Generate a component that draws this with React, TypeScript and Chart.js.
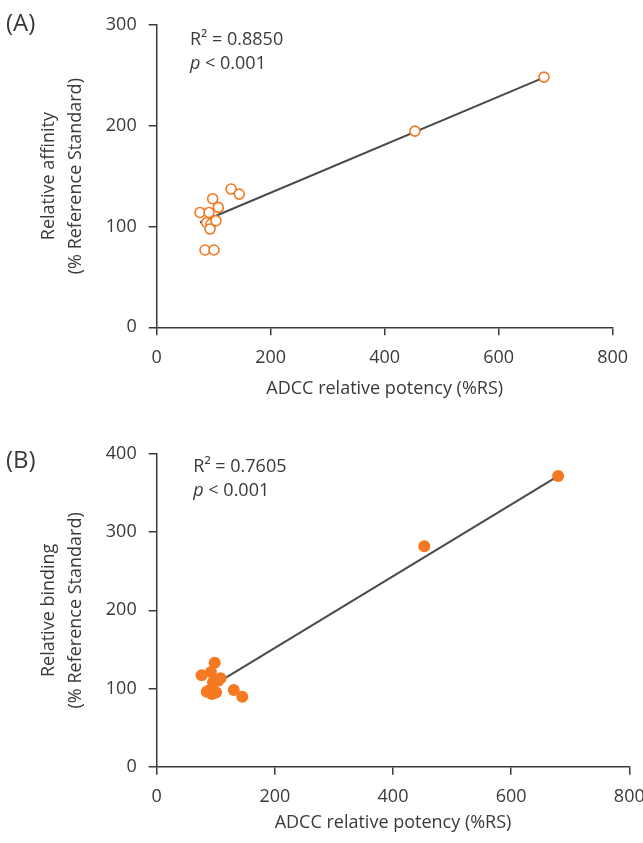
import React, { useEffect, useRef } from "react";
import { Chart, registerables } from "chart.js";

Chart.register(...registerables);

// ---- Data ----
const adccPotency = [76, 91.8, 98.2, 108.1, 87.7, 95.3, 93.5, 104, 84.7, 100.5, 130.4, 144.9, 453, 679.5];
const relativeAffinity = [114, 114, 127.6, 119, 103.8, 102.5, 97.5, 105.8, 76.7, 76.7, 137.2, 132.2, 194.7, 248.3];
const relativeBinding = [117, 121, 133, 113, 97, 108, 93, 110, 96, 95, 98, 89.5, 282, 372];
const fitAffinityX = [76, 680];
const fitAffinityY = [104, 248];
const fitBindingX = [76, 680];
const fitBindingY = [95, 372];
const xTicks = [0, 200, 400, 600, 800];
const yTicksA = [0, 100, 200, 300];
const yTicksB = [0, 100, 200, 300, 400];

const ORANGE = "#F47920";
const TEXT = "#3a3a3a";
const AXIS = "#3a3a3a";
const FONT = "'Open Sans', sans-serif";

type PanelCfg = {
  label: string;
  r2: string;
  yTitle: string[];
  yMax: number;
  yTicks: number[];
  ys: number[];
  fitX: number[];
  fitY: number[];
  filled: boolean;
  height: number;
  padding: { top: number; right: number; bottom: number; left: number };
  xAxisHeight: number;
  xTickPad: number;
  labelY: number;
  annX: number;
  annY: number;
};

function makeAnnotationPlugin(cfg: PanelCfg) {
  return {
    id: "annotations" + cfg.label,
    afterDraw(chart: any) {
      const ctx = chart.ctx;
      const area = chart.chartArea;
      ctx.save();
      ctx.fillStyle = TEXT;
      ctx.textBaseline = "middle";
      ctx.textAlign = "left";
      ctx.font = `24px ${FONT}`;
      ctx.fillText(cfg.label, 6, cfg.labelY);
      const ax = area.left + cfg.annX;
      const ay = area.top + cfg.annY;
      ctx.font = `18px ${FONT}`;
      ctx.fillText(cfg.r2, ax, ay);
      ctx.font = `italic 18px ${FONT}`;
      ctx.fillText("p", ax, ay + 24);
      const pw = ctx.measureText("p").width;
      ctx.font = `18px ${FONT}`;
      ctx.fillText(" < 0.001", ax + pw, ay + 24);
      ctx.restore();
    },
  };
}

function Panel({ cfg, top }: { cfg: PanelCfg; top: number }) {
  const ref = useRef<HTMLCanvasElement>(null);
  useEffect(() => {
    if (!ref.current) return;
    const points = adccPotency.map((x, i) => ({ x, y: cfg.ys[i] }));
    const fit = cfg.fitX.map((x, i) => ({ x, y: cfg.fitY[i] }));
    const chart = new Chart(ref.current, {
      type: "scatter",
      data: {
        datasets: [
          {
            type: "line",
            data: fit,
            borderColor: "#4a4a4a",
            borderWidth: 2,
            pointRadius: 0,
            fill: false,
            order: 1,
          } as any,
          {
            data: points,
            backgroundColor: cfg.filled ? ORANGE : "#ffffff",
            borderColor: ORANGE,
            borderWidth: cfg.filled ? 0 : 1.6,
            pointRadius: cfg.filled ? 6 : 5,
            order: 0,
          },
        ],
      },
      options: {
        animation: false,
        responsive: false,
        maintainAspectRatio: false,
        layout: { padding: cfg.padding },
        plugins: { legend: { display: false }, tooltip: { enabled: false } },
        scales: {
          x: {
            type: "linear",
            min: 0,
            max: 800,
            afterBuildTicks: (s: any) => {
              s.ticks = xTicks.map((v) => ({ value: v }));
            },
            afterFit: (s: any) => {
              s.height = cfg.xAxisHeight;
              s.paddingLeft = 0;
              s.paddingRight = 0;
            },
            ticks: { color: TEXT, font: { size: 18, family: FONT }, padding: cfg.xTickPad, maxRotation: 0 },
            grid: { drawOnChartArea: false, drawTicks: true, tickLength: 8, color: AXIS, lineWidth: 1.5 },
            border: { display: true, color: AXIS, width: 1.5 },
            title: {
              display: true,
              text: "ADCC relative potency (%RS)",
              color: TEXT,
              font: { size: 18, family: FONT, lineHeight: 1.2 },
              padding: { top: 0, bottom: 0 },
            },
          },
          y: {
            type: "linear",
            min: 0,
            max: cfg.yMax,
            afterBuildTicks: (s: any) => {
              s.ticks = cfg.yTicks.map((v) => ({ value: v }));
            },
            afterFit: (s: any) => {
              s.width = 156.7;
              s.paddingTop = 0;
              s.paddingBottom = 0;
            },
            ticks: { color: TEXT, font: { size: 18, family: FONT }, padding: 12 },
            grid: { drawOnChartArea: false, drawTicks: true, tickLength: 8, color: AXIS, lineWidth: 1.5 },
            border: { display: true, color: AXIS, width: 1.5 },
            title: {
              display: true,
              text: cfg.yTitle,
              color: TEXT,
              font: { size: 18, family: FONT, lineHeight: 1.5 },
              padding: { top: 35, bottom: 0 },
            },
          },
        },
      },
      plugins: [makeAnnotationPlugin(cfg)],
    } as any);
    return () => chart.destroy();
  }, [cfg]);
  return (
    <div style={{ position: "absolute", left: 0, top, width: 643, height: cfg.height }}>
      <canvas ref={ref} width={643} height={cfg.height} style={{ width: 643, height: cfg.height, display: "block" }} />
    </div>
  );
}

const panelA: PanelCfg = {
  label: "(A)",
  r2: "R² = 0.8850",
  yTitle: ["Relative affinity", "(% Reference Standard)"],
  yMax: 300,
  yTicks: yTicksA,
  ys: relativeAffinity,
  fitX: fitAffinityX,
  fitY: fitAffinityY,
  filled: false,
  height: 420,
  padding: { top: 25, right: 30.3, bottom: 20.7, left: 0 },
  xAxisHeight: 72,
  xTickPad: 12,
  labelY: 24,
  annX: 33.3,
  annY: 14.5,
};

const panelB: PanelCfg = {
  label: "(B)",
  r2: "R² = 0.7605",
  yTitle: ["Relative binding", "(% Reference Standard)"],
  yMax: 400,
  yTicks: yTicksB,
  ys: relativeBinding,
  fitX: fitBindingX,
  fitY: fitBindingY,
  filled: true,
  height: 413,
  padding: { top: 24, right: 13.7, bottom: 9.2, left: 0 },
  xAxisHeight: 67.1,
  xTickPad: 11,
  labelY: 31.5,
  annX: 36.6,
  annY: 13,
};

export default function App() {
  return (
    <div style={{ position: "absolute", left: 0, top: 0, width: 643, height: 843, background: "#fff" }}>
      <Panel cfg={panelA} top={0} />
      <Panel cfg={panelB} top={430} />
    </div>
  );
}
